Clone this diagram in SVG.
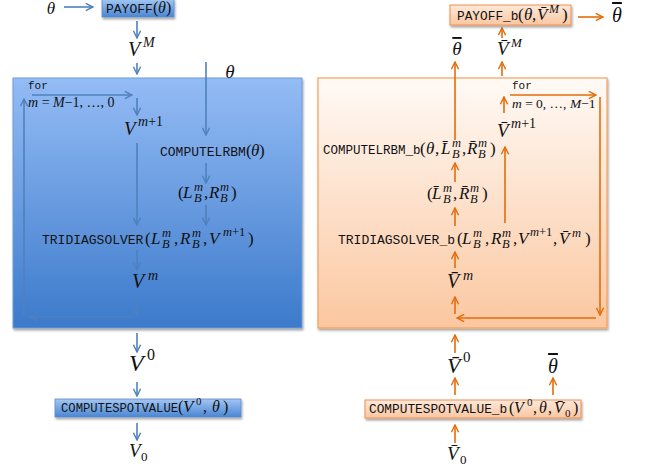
<svg xmlns="http://www.w3.org/2000/svg" width="646" height="470" viewBox="0 0 646 470">
<defs>
<style>
.tt{font-family:"Liberation Mono","DejaVu Sans Mono",monospace;font-style:normal;fill:#111}
.m{font-family:"Liberation Serif","DejaVu Serif",serif;font-style:italic;fill:#111}
.r{font-style:normal}
.s{font-size:12.5px}
.ob{text-decoration:overline}
.bl{stroke:#4f81bd;stroke-width:1.6;fill:none;marker-end:url(#ab)}
.or{stroke:#e46c0a;stroke-width:1.6;fill:none;marker-end:url(#ao)}
</style>
<linearGradient id="gBig" x1="0" y1="0" x2="0" y2="1"><stop offset="0" stop-color="#94bcf5"/><stop offset="1" stop-color="#3c7acb"/></linearGradient>
<linearGradient id="gSmB" x1="0" y1="0" x2="0" y2="1"><stop offset="0" stop-color="#a3c6f4"/><stop offset="1" stop-color="#4a86d2"/></linearGradient>
<linearGradient id="gBigO" x1="0" y1="0" x2="0" y2="1"><stop offset="0" stop-color="#fffaf6"/><stop offset="1" stop-color="#fbc7a0"/></linearGradient>
<linearGradient id="gSmO" x1="0" y1="0" x2="0" y2="1"><stop offset="0" stop-color="#fee9da"/><stop offset="1" stop-color="#f9c6a0"/></linearGradient>
<filter id="sh" x="-10%" y="-20%" width="120%" height="160%"><feDropShadow dx="1" dy="2" stdDeviation="1.2" flood-color="#000" flood-opacity="0.35"/></filter>
<marker id="ab" viewBox="0 0 10 10" refX="9" refY="5" markerWidth="9" markerHeight="9" orient="auto" markerUnits="userSpaceOnUse"><path d="M1,1 L9,5 L1,9" fill="none" stroke="#4f81bd" stroke-width="1.6"/></marker>
<marker id="ao" viewBox="0 0 10 10" refX="9" refY="5" markerWidth="9" markerHeight="9" orient="auto" markerUnits="userSpaceOnUse"><path d="M1,1 L9,5 L1,9" fill="none" stroke="#e46c0a" stroke-width="1.6"/></marker>
</defs>
<rect width="646" height="470" fill="#fff"/>

<g id="loopBoxLeft"><rect x="13" y="78" width="289" height="250" fill="url(#gBig)" stroke="#6f9bd4" stroke-width="1" filter="url(#sh)"/></g>
<g id="loopBoxRight"><rect x="318" y="78" width="289" height="250" fill="url(#gBigO)" stroke="#f4a05a" stroke-width="1.2" filter="url(#sh)"/></g>

<g id="connectors">
<line class="bl" x1="64" y1="7" x2="93" y2="7"/>
<line class="bl" x1="137" y1="21" x2="137" y2="38"/>
<line class="bl" x1="137" y1="63" x2="137" y2="74"/>
<line class="bl" x1="206" y1="62" x2="206" y2="135"/>
<line class="bl" x1="32" y1="95" x2="132" y2="95"/>
<line class="bl" x1="137" y1="98" x2="137" y2="115"/>
<line class="bl" x1="137" y1="143" x2="137" y2="225"/>
<line class="bl" x1="206" y1="163" x2="206" y2="183"/>
<line class="bl" x1="206" y1="205" x2="206" y2="225"/>
<line class="bl" x1="137" y1="250" x2="137" y2="270"/>
<line class="bl" x1="137" y1="297" x2="137" y2="315"/>
<line class="bl" x1="132" y1="317" x2="30" y2="317"/>
<line class="bl" x1="24" y1="316" x2="24" y2="99"/>
<line class="bl" x1="137" y1="333" x2="137" y2="352"/>
<line class="bl" x1="137" y1="382" x2="137" y2="396"/>
<line class="bl" x1="137" y1="423" x2="137" y2="440"/>

<line class="or" x1="578" y1="17" x2="603" y2="17"/>
<line class="or" x1="502" y1="38" x2="502" y2="28"/>
<line class="or" x1="502" y1="76" x2="502" y2="62"/>
<line class="or" x1="455" y1="140" x2="455" y2="62"/>
<line class="or" x1="510" y1="95" x2="596" y2="95"/>
<line class="or" x1="600" y1="97" x2="600" y2="315"/>
<line class="or" x1="596" y1="318" x2="457" y2="318"/>
<line class="or" x1="455" y1="314" x2="455" y2="297"/>
<line class="or" x1="455" y1="268" x2="455" y2="252"/>
<line class="or" x1="455" y1="226" x2="455" y2="208"/>
<line class="or" x1="455" y1="182" x2="455" y2="163"/>
<line class="or" x1="505" y1="223" x2="505" y2="147"/>
<line class="or" x1="504" y1="113" x2="504" y2="97"/>
<line class="or" x1="455" y1="353" x2="455" y2="335"/>
<line class="or" x1="455" y1="395" x2="455" y2="378"/>
<line class="or" x1="553" y1="395" x2="553" y2="378"/>
<line class="or" x1="455" y1="443" x2="455" y2="425"/>
</g>

<!-- Left side -->
<g id="thetaIn"><text x="51" y="14" class="m" font-size="17" text-anchor="middle">θ</text></g>
<g id="payoff">
<rect x="102" y="-1" width="72" height="18" fill="url(#gSmB)" stroke="#5a8ccc" stroke-width="0.8" filter="url(#sh)"/>
<text class="m" font-size="16"><tspan class="tt" font-size="13" x="106" y="13">PAYOFF</tspan><tspan class="r" x="153" y="13">(</tspan><tspan x="158" y="13">θ</tspan><tspan class="r" x="166" y="13">)</tspan></text>
</g>
<g id="VM"><text class="m" font-size="20"><tspan x="128" y="56">V</tspan><tspan font-size="14" x="143" y="47">M</tspan></text></g>
<g id="thetaLoop"><text x="230" y="78" class="m" font-size="19" text-anchor="middle">θ</text></g>
<g id="forLeft">
<text x="28" y="89" class="tt" font-size="11">for</text>
<text x="28" y="107" class="m" font-size="14">m <tspan class="r">=</tspan> M<tspan class="r">−1, …, 0</tspan></text>
</g>
<g id="Vmp1"><text class="m" font-size="19"><tspan x="124" y="135">V</tspan><tspan font-size="14" x="138" y="126">m<tspan class="r">+1</tspan></tspan></text></g>
<g id="computeLRBM"><text class="m" font-size="17"><tspan class="tt" font-size="13" x="160" y="156">COMPUTELRBM</tspan><tspan class="r" x="246" y="156">(</tspan><tspan x="251" y="156">θ</tspan><tspan class="r" x="259" y="156">)</tspan></text></g>
<g id="LRpair"><text class="m" font-size="17"><tspan class="r" x="178" y="198">(</tspan><tspan x="183" y="198">L</tspan><tspan class="s" x="194" y="191">m</tspan><tspan class="s" x="194" y="202">B</tspan><tspan class="r" x="204" y="198">,</tspan><tspan x="209" y="198">R</tspan><tspan class="s" x="220" y="191">m</tspan><tspan class="s" x="220" y="202">B</tspan><tspan class="r" x="231" y="198">)</tspan></text></g>
<g id="tridiag"><text class="m" font-size="17"><tspan class="tt" font-size="13" x="42" y="244">TRIDIAGSOLVER</tspan><tspan class="r" x="145" y="244">(</tspan><tspan x="151" y="244">L</tspan><tspan class="s" x="162" y="237">m</tspan><tspan class="s" x="162" y="248">B</tspan><tspan class="r" x="174" y="244">,</tspan><tspan x="180" y="244">R</tspan><tspan class="s" x="192" y="237">m</tspan><tspan class="s" x="192" y="248">B</tspan><tspan class="r" x="203" y="244">,</tspan><tspan x="209" y="244">V</tspan><tspan class="s" x="223" y="236">m<tspan class="r">+1</tspan></tspan><tspan class="r" x="248" y="244">)</tspan></text></g>
<g id="Vm"><text class="m" font-size="20"><tspan x="132" y="288">V</tspan><tspan font-size="14" x="148" y="280">m</tspan></text></g>
<g id="V0sup"><text class="m" font-size="24"><tspan x="129" y="371">V</tspan><tspan class="r" font-size="16" x="147" y="360">0</tspan></text></g>
<g id="computeSpot">
<rect x="55" y="399" width="186" height="18" fill="url(#gSmB)" stroke="#5a8ccc" stroke-width="0.8" filter="url(#sh)"/>
<text class="m" font-size="16"><tspan class="tt" font-size="12.2" x="61" y="412">COMPUTESPOTVALUE</tspan><tspan class="r" x="178" y="412">(</tspan><tspan font-size="17" x="183" y="412">V</tspan><tspan class="r" font-size="11" x="196" y="405">0</tspan><tspan class="r" x="203" y="412">,</tspan><tspan x="212" y="412">θ</tspan><tspan class="r" x="223" y="412">)</tspan></text>
</g>
<g id="V0sub"><text class="m" font-size="19"><tspan x="129" y="457">V</tspan><tspan class="r" font-size="13" x="141" y="461">0</tspan></text></g>

<!-- Right side -->
<g id="payoffB">
<rect x="450" y="5" width="121" height="20" fill="url(#gSmO)" stroke="#f09050" stroke-width="1" filter="url(#sh)"/>
<text class="m" font-size="17"><tspan class="tt" font-size="12.8" x="457" y="20">PAYOFF_b</tspan><tspan class="r" x="518" y="20">(</tspan><tspan x="524" y="20">θ</tspan><tspan class="r" x="532" y="20">,</tspan><tspan x="537" y="20">V̄</tspan><tspan font-size="12" x="549" y="13">M</tspan><tspan class="r" x="562" y="20">)</tspan></text>
</g>
<g id="thetaBarOut"><text x="617" y="22" class="m ob" font-size="20" text-anchor="middle">θ</text></g>
<g id="thetaBarLoop"><text x="457" y="55" class="m ob" font-size="19" text-anchor="middle">θ</text></g>
<g id="VbarM"><text class="m" font-size="19"><tspan x="497" y="55">V̄</tspan><tspan font-size="13" x="511" y="47">M</tspan></text></g>
<g id="forRight">
<text x="512" y="89" class="tt" font-size="11">for</text>
<text x="512" y="108" class="m" font-size="13.5">m <tspan class="r">= 0, …, </tspan>M<tspan class="r">−1</tspan></text>
</g>
<g id="Vbarmp1"><text class="m" font-size="19"><tspan x="497" y="137">V̄</tspan><tspan font-size="14" x="511" y="128">m<tspan class="r">+1</tspan></tspan></text></g>
<g id="computeLRBMb"><text class="m" font-size="17"><tspan class="tt" font-size="12.5" x="323" y="154">COMPUTELRBM_b</tspan><tspan class="r" x="420" y="154">(</tspan><tspan x="426" y="154">θ</tspan><tspan class="r" x="435" y="154">,</tspan><tspan x="441" y="154">L̄</tspan><tspan class="s" x="452" y="147">m</tspan><tspan class="s" x="452" y="158">B</tspan><tspan class="r" x="462" y="154">,</tspan><tspan x="467" y="154">R̄</tspan><tspan class="s" x="478" y="147">m</tspan><tspan class="s" x="478" y="158">B</tspan><tspan class="r" x="490" y="154">)</tspan></text></g>
<g id="LRbarPair"><text class="m" font-size="17"><tspan class="r" x="427" y="199">(</tspan><tspan x="432" y="199">L̄</tspan><tspan class="s" x="443" y="192">m</tspan><tspan class="s" x="443" y="203">B</tspan><tspan class="r" x="453" y="199">,</tspan><tspan x="459" y="199">R̄</tspan><tspan class="s" x="470" y="192">m</tspan><tspan class="s" x="470" y="203">B</tspan><tspan class="r" x="482" y="199">)</tspan></text></g>
<g id="tridiagB"><text class="m" font-size="17"><tspan class="tt" font-size="13" x="338" y="244">TRIDIAGSOLVER_b</tspan><tspan class="r" x="457" y="244">(</tspan><tspan x="462" y="244">L</tspan><tspan class="s" x="473" y="237">m</tspan><tspan class="s" x="473" y="248">B</tspan><tspan class="r" x="485" y="244">,</tspan><tspan x="491" y="244">R</tspan><tspan class="s" x="502" y="237">m</tspan><tspan class="s" x="502" y="248">B</tspan><tspan class="r" x="513" y="244">,</tspan><tspan x="518" y="244">V</tspan><tspan class="s" x="530" y="236">m<tspan class="r">+1</tspan></tspan><tspan class="r" x="553" y="244">,</tspan><tspan x="559" y="244">V̄</tspan><tspan class="s" x="572" y="237">m</tspan><tspan class="r" x="585" y="244">)</tspan></text></g>
<g id="Vbarm"><text class="m" font-size="20"><tspan x="447" y="288">V̄</tspan><tspan font-size="14" x="463" y="280">m</tspan></text></g>
<g id="Vbar0sup"><text class="m" font-size="22"><tspan x="447" y="373">V̄</tspan><tspan class="r" font-size="15" x="463" y="362">0</tspan></text></g>
<g id="thetaBarSpot"><text x="553" y="373" class="m ob" font-size="20" text-anchor="middle">θ</text></g>
<g id="computeSpotB">
<rect x="365" y="400" width="216" height="18" fill="url(#gSmO)" stroke="#f09050" stroke-width="1" filter="url(#sh)"/>
<text class="m" font-size="16"><tspan class="tt" font-size="12.8" x="369" y="413">COMPUTESPOTVALUE_b</tspan><tspan class="r" x="509" y="413">(</tspan><tspan x="514" y="413">V</tspan><tspan class="r" font-size="11" x="527" y="406">0</tspan><tspan class="r" x="533" y="413">,</tspan><tspan x="539" y="413">θ</tspan><tspan class="r" x="548" y="413">,</tspan><tspan x="554" y="413">V̄</tspan><tspan class="r" font-size="11" x="565" y="417">0</tspan><tspan class="r" x="573" y="413">)</tspan></text>
</g>
<g id="Vbar0sub"><text class="m" font-size="19"><tspan x="447" y="460">V̄</tspan><tspan class="r" font-size="13" x="460" y="464">0</tspan></text></g>
</svg>
